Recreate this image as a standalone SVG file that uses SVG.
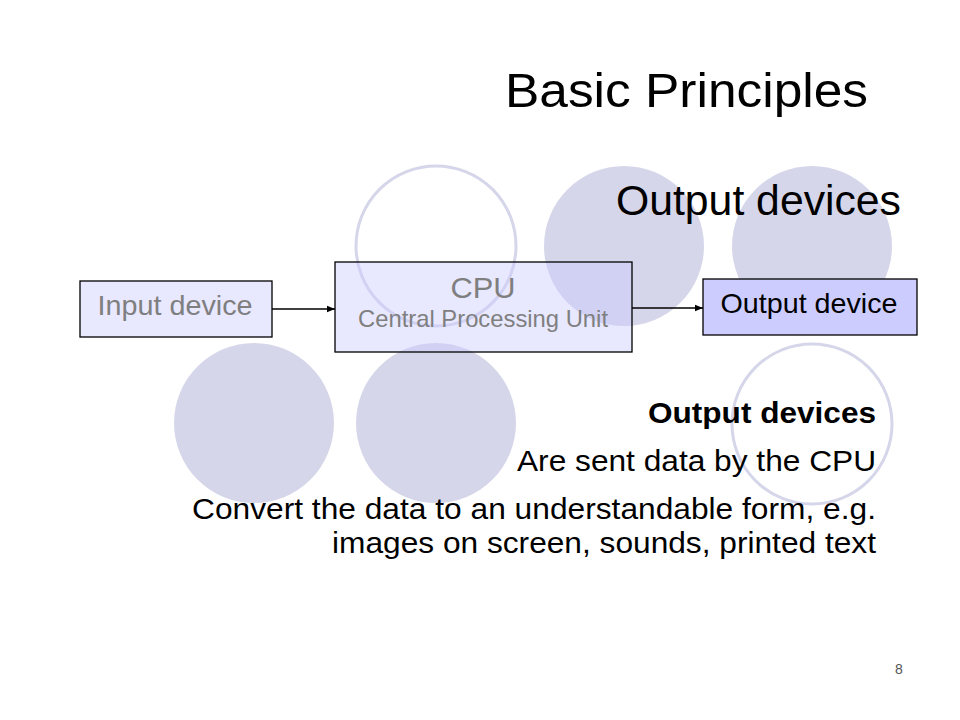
<svg xmlns="http://www.w3.org/2000/svg" width="960" height="720" viewBox="0 0 960 720">
<style>
text{font-family:"Liberation Sans",Arial,sans-serif}
.dot{fill:#d6d6ea}
.ring{fill:none;stroke:#d6d6ea;stroke-width:3}
.box{stroke:#000;stroke-width:1.3}
.light{fill:#ccccff;fill-opacity:0.45}
.solid{fill:#ccccff}
.grey{fill:#7f7f7f}
.conn{stroke:#000;stroke-width:1.3;fill:none}
.body{font-size:30px;fill:#000;text-anchor:end}
</style>
<defs>
<marker id="ah" viewBox="0 0 10 10" refX="10" refY="5" markerWidth="8" markerHeight="8" markerUnits="userSpaceOnUse" orient="auto">
<path d="M0,1 L10,5 L0,9 Z" fill="#000"/>
</marker>
</defs>
<rect width="960" height="720" fill="#fff"/>
<g id="decor">
<circle class="ring" cx="436" cy="246" r="80"/>
<circle class="dot" cx="624" cy="246" r="80"/>
<circle class="dot" cx="812" cy="246" r="80"/>
<circle class="dot" cx="254" cy="423" r="80"/>
<circle class="dot" cx="436" cy="423" r="80"/>
<circle class="ring" cx="812" cy="424" r="80"/>
</g>
<text x="868" y="107" font-size="48" text-anchor="end" textLength="363" lengthAdjust="spacingAndGlyphs">Basic Principles</text>
<text x="901" y="215" font-size="42" text-anchor="end" textLength="285" lengthAdjust="spacingAndGlyphs">Output devices</text>
<g id="input">
<rect class="box light" x="80" y="281" width="192" height="56"/>
<text class="grey" x="175" y="315" font-size="28" text-anchor="middle" textLength="155" lengthAdjust="spacingAndGlyphs">Input device</text>
</g>
<g id="cpu">
<rect class="box light" x="335" y="262" width="297" height="90"/>
<text class="grey" x="483" y="298" font-size="30" text-anchor="middle" textLength="65" lengthAdjust="spacingAndGlyphs">CPU</text>
<text class="grey" x="483" y="327" font-size="24" text-anchor="middle" textLength="250" lengthAdjust="spacingAndGlyphs">Central Processing Unit</text>
</g>
<g id="output">
<rect class="box solid" x="703" y="279" width="214" height="56"/>
<text x="809" y="313" font-size="28" text-anchor="middle" textLength="177" lengthAdjust="spacingAndGlyphs">Output device</text>
</g>
<g id="connectors">
<line class="conn" x1="272" y1="309" x2="335" y2="309" marker-end="url(#ah)"/>
<line class="conn" x1="632" y1="308" x2="703" y2="308" marker-end="url(#ah)"/>
</g>
<g id="bullets">
<text class="body" x="876" y="423" font-weight="bold" font-size="28" textLength="228" lengthAdjust="spacingAndGlyphs">Output devices</text>
<text class="body" x="876" y="471" textLength="359" lengthAdjust="spacingAndGlyphs">Are sent data by the CPU</text>
<text class="body" x="876" y="519" textLength="684" lengthAdjust="spacingAndGlyphs">Convert the data to an understandable form, e.g.</text>
<text class="body" x="876" y="553" textLength="544" lengthAdjust="spacingAndGlyphs">images on screen, sounds, printed text</text>
</g>
<text x="899" y="674" font-size="14" fill="#555" text-anchor="middle">8</text>
</svg>
